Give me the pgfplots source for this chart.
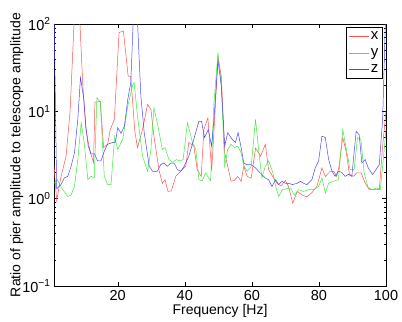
\documentclass[border=0pt]{standalone}
\usepackage{fontspec}
\setmainfont{Liberation Sans}
\usepackage{pgfplots}
\pgfplotsset{compat=1.18}

\definecolor{cx}{RGB}{255,80,80}
\definecolor{cy}{RGB}{60,235,60}
\definecolor{cz}{RGB}{70,70,255}

\begin{document}
\begin{tikzpicture}[font=\fontsize{14bp}{16bp}\selectfont]
\begin{axis}[
  scale only axis,
  width=332bp, height=262bp,
  ymode=log,
  xmin=1, xmax=100,
  ymin=0.1, ymax=100,
  xtick={20,40,60,80,100},
  ytick={0.1,1,10,100},
  yticklabels={10\textsuperscript{−1},10\textsuperscript{0},10\textsuperscript{1},10\textsuperscript{2}},
  /pgf/number format/assume math mode=true,
  tick label style={font=\fontsize{14.5bp}{16bp}\selectfont},
  tick align=inside,
  major tick length=4bp,
  minor tick length=2bp,
  axis line style={line width=0.5pt},
  every tick/.style={black, line width=0.4pt},
  xticklabel style={yshift=-1bp},
  xlabel={Frequency [Hz]},
  ylabel={Ratio of pier amplitude to telescope amplitude},
  xlabel style={at={(axis description cs:0.5,-0.095)}, anchor=center},
  ylabel style={at={(axis description cs:-0.112,0.5)}, anchor=center},
  legend style={at={(rel axis cs:0.99,0.988)}, anchor=north east,
    draw=black, line width=0.5pt, inner xsep=2bp, inner ysep=2.5bp,
    row sep=3bp, font=\fontsize{15bp}{17bp}\selectfont},
  legend cell align=left,
  legend image code/.code={\draw[#1] (0bp,0bp) -- (20bp,0bp);},
  every axis plot/.append style={line width=0.5pt},
]
\addplot[cx] coordinates {
(1,2.4) (1.8,0.95) (3.1,1.8) (4.6,3.06) (5.8,10) (7.1,130) (8.6,130) (9.6,19.5)
(10.5,6.2) (11.8,3.4) (12.8,2.6) (13.2,12.7) (14.8,13) (15.8,3.85) (17,4.2)
(17.8,6.2) (19,8.1) (20.4,80) (21.7,83) (23.1,25.4) (23.9,25) (25.1,5.9)
(25.9,3.85) (27.4,6.2) (28.9,12) (29.9,10.5) (30.8,5.2) (32.3,2.15) (33.3,1.5)
(34.1,1.65) (35,1.21) (36,1.23) (37.3,1.8) (38.8,2.06) (40.3,2.35) (41.2,4.4)
(42.7,4.0) (43.7,2.15) (44.9,1.8) (45.7,6.2) (46.9,8.4) (48,2.06) (48.9,8.1)
(49.9,42) (50.9,25) (51.9,3.35) (52.8,2.35) (53.8,1.58) (54.8,1.62) (55.8,1.8)
(56.8,1.58) (57.6,2.35) (58.6,1.8) (59.8,1.72) (61.1,3.8) (62.6,3.06) (64,4.2)
(65,2.15) (66.5,1.72) (67.5,1.5) (68.7,1.4) (70,1.62) (71,1.35) (72.2,0.89)
(73.5,1.21) (75,1.1) (76.4,1.05) (77.9,1.17) (79.4,1.38) (80.9,2.25) (81.9,1.8)
(83.4,2.06) (84.4,2.06) (85.3,1.8) (86,2.35) (87.1,5.0) (88.1,3.5) (89.1,1.9)
(90.3,1.8) (91.3,1.97) (92.6,1.97) (93.8,1.5) (95,1.27) (96.7,1.27) (98,1.27)
(99,4.0) (100,10)
};
\addplot[cy] coordinates {
(1,1.5) (2,1.65) (3.6,1.27) (5.1,1.06) (6.1,1.1) (7.1,1.38) (8.1,2.8) (9.1,7.4)
(10,4.4) (11.1,1.65) (12.1,1.8) (13,1.72) (13.8,14.3) (14.8,12.7) (16,1.8)
(17,1.45) (18,1.45) (19.1,5.2) (20,3.65) (21.5,4.8) (23,11.5) (24.4,19.5)
(24.9,21.4) (25.9,8.8) (27.4,3.06) (28.9,2.06) (29.9,3.65) (30.8,11) (32,6.8)
(33.3,3.65) (34.1,3.85) (35.3,2.8) (36.4,2.6) (37.5,2.8) (38.5,2.7) (39.5,2.8)
(40.8,7.4) (42.3,4.4) (43.3,3.65) (44.2,1.65) (45.2,1.6) (46.2,1.97) (47.7,1.6)
(48.7,12.6) (49.9,47) (50.9,19.5) (51.9,2.35) (52.8,3.65) (53.8,4.2) (54.8,3.85)
(55.8,4.0) (56.8,3.35) (57.6,2.4) (58.6,2.06) (59.8,2.35) (61.1,8.1) (62,3.65)
(63,1.73) (64,2.35) (65,2.7) (66.3,1.97) (67.1,1.38) (68,1.06) (69.1,1.27)
(70.5,1.3) (71.5,1.33) (72.7,1.1) (74,1.27) (75.4,1.21) (76.9,1.27) (78.4,1.27)
(79.9,1.38) (80.9,1.73) (81.9,1.16) (82.9,1.5) (84.3,1.58) (85.8,1.65) (87.1,6.2)
(88.1,3.8) (89.3,2.15) (90.5,2.15) (91.5,5.0) (92.5,4.8) (93.5,1.97) (94.7,1.33)
(96,1.27) (97.2,1.33) (98.3,1.27) (99.2,2.8) (100,6.2)
};
\addplot[cz] coordinates {
(1,150) (1.8,1.3) (2.1,1.33) (3.1,1.45) (4.1,1.73) (5.1,1.8) (6.1,2.35) (7.1,3.35)
(8.1,8.1) (8.9,24.4) (9.9,13.7) (10.5,6.8) (11.2,4.0) (12.1,3.25) (13.1,3.25)
(14,2.7) (15,2.7) (16,3.5) (17,4.2) (18.5,4.4) (19.3,4.4) (20,6.5) (21,5.6)
(22,6.8) (23,13.7) (23.9,21.4) (24.7,130) (25.8,130) (26.9,15) (27.9,5.7)
(29.4,2.35) (30.4,2.06) (31.8,2.06) (32.8,2.45) (33.8,2.56) (34.8,2.35)
(35.8,2.56) (36.8,2.56) (37.8,2.15) (38.8,2.06) (39.8,2.35) (41.2,3.06)
(42.7,4.8) (44.2,7.7) (45,7.7) (45.9,5.0) (47,6.2) (48,4.0) (48.7,8.1) (49.9,38)
(50.9,19.5) (51.9,4.0) (52.8,5.7) (54.1,4.8) (55.1,4.4) (55.9,5.7) (56.8,3.85)
(57.6,2.56) (58.6,2.45) (59.8,2.45) (61.1,2.25) (62,2.06) (63,1.89) (64,1.72)
(65,1.65) (66,1.38) (67.1,1.65) (68,1.45) (69,1.58) (70,1.5) (71,1.5) (72.1,1.45)
(73.5,1.5) (74.5,1.58) (75.4,1.5) (76.4,1.45) (77.9,1.65) (78.9,2.25) (79.9,2.7)
(80.9,5.2) (81.9,5.0) (82.9,2.8) (83.9,2.06) (84.8,1.8) (85.8,2.06) (86.8,2.0)
(87.8,1.8) (88.8,1.9) (89.8,1.8) (91.1,5.9) (92,5.4) (92.8,2.56) (93.8,2.8)
(94.7,2.25) (96,1.89) (97,2.15) (98,2.45) (99,8.1) (99.8,100) (100,100)
};
\legend{x,y,z}
\end{axis}
\pgfresetboundingbox
\path[use as bounding box] (-54bp,-36bp) rectangle (348bp,286bp);
\end{tikzpicture}
\end{document}
